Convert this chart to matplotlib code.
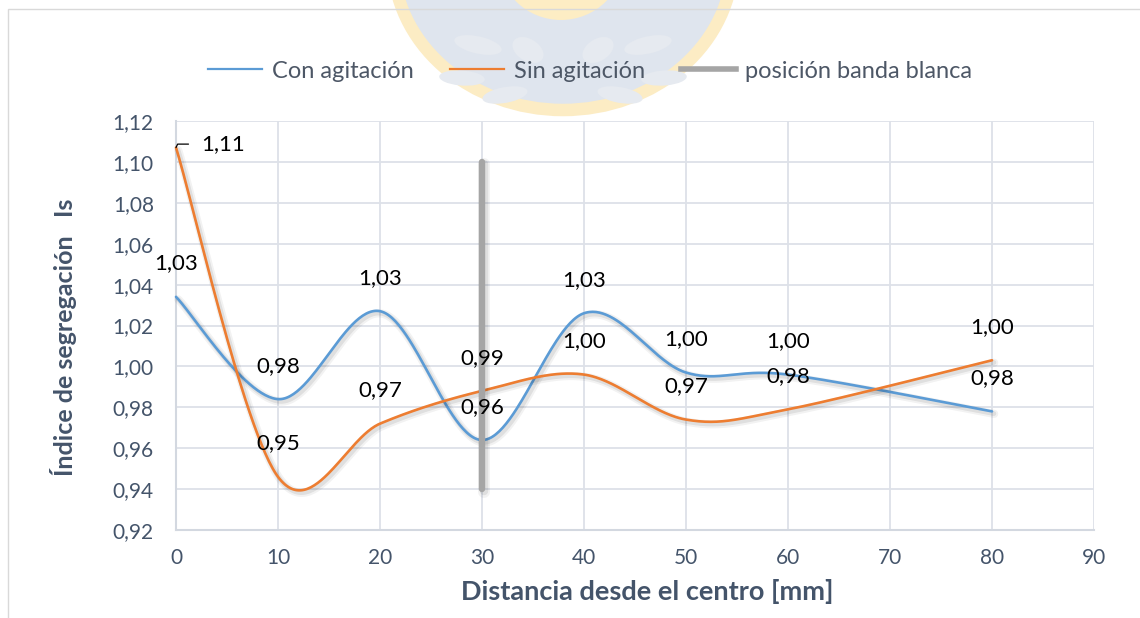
import numpy as np
import matplotlib
matplotlib.use("Agg")
import matplotlib.pyplot as plt
import matplotlib.patheffects as pe
from matplotlib.patches import Ellipse, Rectangle
from matplotlib.lines import Line2D

# ---- data -------------------------------------------------------------
distancia = [0, 10, 20, 30, 40, 50, 60, 80]
con_agitacion = [1.034, 0.984, 1.027, 0.964, 1.026, 0.997, 0.996, 0.978]
sin_agitacion = [1.107, 0.946, 0.972, 0.988, 0.996, 0.974, 0.979, 1.003]
banda_x = [30, 30]
banda_y = [0.94, 1.10]

series_names = ["Con agitación", "Sin agitación", "posición banda blanca"]
x_ticks = list(range(0, 100, 10))
y_ticks = [0.92, 0.94, 0.96, 0.98, 1.00, 1.02, 1.04, 1.06, 1.08, 1.10, 1.12]

BLUE = "#5b9bd5"
ORANGE = "#ed7d31"
GREY = "#a5a5a5"
AXIS_TXT = "#44546a"
GRID = "#dde1e8"
FONT = "Lato"

plt.rcParams["font.family"] = [FONT, "DejaVu Sans"]


def smooth(xs, ys, n=60):
    """Spreadsheet-style smoothed line: cubic Bezier segments whose control
    points follow the neighbouring points (Catmull-Rom, tension 1/6)."""
    p = np.column_stack([xs, ys]).astype(float)
    m = len(p)
    out = []
    t = np.linspace(0, 1, n)[:, None]
    for i in range(m - 1):
        p0 = p[i]
        p3 = p[i + 1]
        prev = p[i - 1] if i > 0 else p[i]
        nxt = p[i + 2] if i + 2 < m else p[i + 1]
        c1 = p0 + (p3 - prev) / 6.0
        c2 = p3 - (nxt - p0) / 6.0
        seg = ((1 - t) ** 3) * p0 + 3 * ((1 - t) ** 2) * t * c1 \
            + 3 * (1 - t) * t ** 2 * c2 + t ** 3 * p3
        out.append(seg if i == 0 else seg[1:])
    out = np.vstack(out)
    return out[:, 0], out[:, 1]


def shadow(lw):
    return [
        pe.SimpleLineShadow(offset=(1.6, -1.8), shadow_color="black",
                            alpha=0.05, linewidth=lw + 4),
        pe.SimpleLineShadow(offset=(1.4, -1.6), shadow_color="black",
                            alpha=0.08, linewidth=lw + 1.5),
        pe.Normal(),
    ]


def fmt(v):
    return f"{v:.2f}".replace(".", ",")


W, H = 1140, 618
fig = plt.figure(figsize=(W / 100, H / 100), dpi=100)
fig.patch.set_facecolor("white")


def fx(px):
    return px / W


def fy(py):
    return 1 - py / H


# ---- crest watermark behind the legend -----------------------------------
crest_zorder = -5
fig.add_artist(Ellipse((fx(563), fy(-40)), 2 * 170 / W, 2 * 150 / H,
                       transform=fig.transFigure, facecolor="#dfe5ee",
                       edgecolor="#fcecc4", linewidth=9, zorder=crest_zorder))
fig.add_artist(Ellipse((fx(561), fy(-42)), 2 * 63 / W, 2 * 62 / H,
                       transform=fig.transFigure, facecolor="#fdedc4",
                       edgecolor="none", zorder=crest_zorder + 1))
leaves = [(478, 45, 52, 16, -30), (462, 78, 46, 15, -10), (505, 95, 48, 15, 25),
          (528, 50, 50, 15, -70),
          (648, 45, 52, 16, 30), (664, 78, 46, 15, 10), (620, 95, 48, 15, -25),
          (598, 50, 50, 15, 70)]
for lx, ly, lw_, lh, ang in leaves:
    fig.add_artist(Ellipse((fx(lx), fy(ly)), lw_ / W, lh / H, angle=ang,
                           transform=fig.transFigure, facecolor="#e6eaf0",
                           edgecolor="none", zorder=crest_zorder + 1))

# chart frame
fig.add_artist(Rectangle((fx(8), fy(700)), 2.0, fy(9) - fy(700),
                         transform=fig.transFigure, facecolor="none",
                         edgecolor="#d9d9d9", linewidth=1.0, zorder=-4))

# ---- axes -----------------------------------------------------------------
ax = fig.add_axes([fx(176), fy(530), fx(1094) - fx(176), fy(121) - fy(530)])
ax.set_facecolor("none")
ax.set_xlim(0, 90)
ax.set_ylim(0.92, 1.12)
ax.set_xticks(x_ticks)
ax.set_yticks(y_ticks)
ax.set_xticklabels([str(v) for v in x_ticks])
ax.set_yticklabels([fmt(v) for v in y_ticks])
ax.tick_params(axis="both", length=0, labelsize=15, colors=AXIS_TXT)
ax.tick_params(axis="x", pad=13)
ax.tick_params(axis="y", pad=16)
ax.grid(True, color=GRID, linewidth=1.3, zorder=0)
ax.set_axisbelow(True)
for side in ("top", "right"):
    ax.spines[side].set_visible(False)
for side in ("left", "bottom"):
    ax.spines[side].set_color("#d3d8e0")
    ax.spines[side].set_linewidth(1.5)

bx, by = smooth(distancia, con_agitacion)
ox, oy = smooth(distancia, sin_agitacion)
ax.plot(bx, by, color=BLUE, lw=1.9, solid_capstyle="round",
        path_effects=shadow(1.9), zorder=3, clip_on=False)
ax.plot(ox, oy, color=ORANGE, lw=1.9, solid_capstyle="round",
        path_effects=shadow(1.9), zorder=3, clip_on=False)
ax.plot(banda_x, banda_y, color=GREY, lw=4.6, solid_capstyle="round",
        path_effects=shadow(4.6), zorder=4)

# ---- data labels ---------------------------------------------------------
for x, v in zip(distancia, con_agitacion):
    ax.annotate(fmt(v), (x, v), xytext=(0, 24), textcoords="offset points",
                ha="center", va="center", fontsize=16, color="black", zorder=6)
for x, v in zip(distancia, sin_agitacion):
    if x == 0:
        ax.annotate(fmt(v), (x, v), xytext=(18, 2.5), textcoords="offset points",
                    ha="left", va="center", fontsize=16, color="black", zorder=6,
                    arrowprops=dict(arrowstyle="-", color="black", lw=0.9,
                                    shrinkA=7, shrinkB=0, relpos=(0, 0.5),
                                    connectionstyle="angle,angleA=0,angleB=65,rad=0"))
    else:
        ax.annotate(fmt(v), (x, v), xytext=(0, 24), textcoords="offset points",
                    ha="center", va="center", fontsize=16, color="black", zorder=6)

# ---- titles & legend -----------------------------------------------------
fig.text(fx(647), fy(591), "Distancia desde el centro [mm]", ha="center",
         va="center", fontsize=19.5, fontweight="bold", color=AXIS_TXT)
fig.text(fx(64), fy(337), "Índice de segregación   Is", ha="center",
         va="center", rotation=90, fontsize=18, fontweight="bold",
         color=AXIS_TXT)

handles = [Line2D([], [], color=BLUE, lw=1.6),
           Line2D([], [], color=ORANGE, lw=1.6),
           Line2D([], [], color=GREY, lw=4.0)]
fig.legend(handles, series_names, loc="center", ncol=3,
           bbox_to_anchor=(fx(590), fy(71)), frameon=False, fontsize=17,
           labelcolor="#4d5766", handlelength=2.3, handletextpad=0.4,
           columnspacing=1.55)

fig.savefig("out.png", dpi=100)
